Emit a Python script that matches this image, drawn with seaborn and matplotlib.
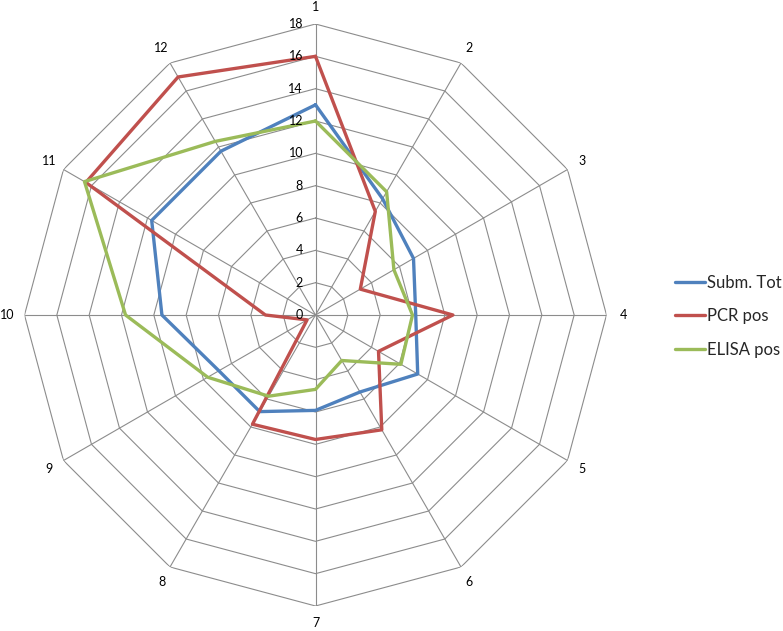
import numpy as np
import pandas as pd
import matplotlib
matplotlib.use("Agg")
import matplotlib.pyplot as plt
import seaborn as sns
from matplotlib import transforms

categories = [str(i) for i in range(1, 13)]
series_names = ["Subm. Tot", "PCR pos", "ELISA pos"]
subm_tot = [13.0, 8.3, 7.0, 6.2, 7.3, 5.5, 5.9, 6.9, 6.9, 9.5, 11.7, 11.7]
pcr_pos = [16.0, 7.4, 3.2, 8.5, 4.5, 8.2, 7.7, 7.8, 0.6, 3.1, 16.4, 17.0]
elisa_pos = [12.0, 8.8, 5.6, 6.0, 6.1, 3.25, 4.6, 5.8, 7.7, 11.75, 16.5, 12.4]
radial_ticks = [0, 2, 4, 6, 8, 10, 12, 14, 16, 18]
colors = ["#4F81BD", "#C0504D", "#9BBB59"]

sns.set_theme(style="white")
plt.rcParams["font.family"] = ["Lato", "DejaVu Sans"]

W, H = 783, 631
cx, cy, R = 315.5, 315.0, 291.0
fig = plt.figure(figsize=(W / 100, H / 100), dpi=100)
ax = fig.add_axes([(cx - R) / W, (H - cy - R) / H, 2 * R / W, 2 * R / H],
                  projection="polar")
ax.set_theta_zero_location("N")
ax.set_theta_direction(-1)

n = len(categories)
angles = np.arange(n) * 2 * np.pi / n
closed_angles = np.append(angles, 2 * np.pi)

rows = []
for name, vals in zip(series_names, [subm_tot, pcr_pos, elisa_pos]):
    for a, v in zip(closed_angles, list(vals) + [vals[0]]):
        rows.append({"theta": a, "value": v, "series": name})
df = pd.DataFrame(rows)

# polygon grid
grid_color = "#8C8C8C"
for r in radial_ticks[1:]:
    ax.plot(closed_angles, [r] * len(closed_angles), color=grid_color, lw=0.8, zorder=1)
for a in angles:
    ax.plot([a, a], [0, radial_ticks[-1]], color=grid_color, lw=0.8, zorder=1)

sns.lineplot(data=df, x="theta", y="value", hue="series", hue_order=series_names,
             palette=colors, sort=False, estimator=None, linewidth=2.4, ax=ax,
             zorder=3)

ax.grid(False)
ax.spines["polar"].set_visible(False)
ax.set_xticks([])
ax.set_yticks([])
ax.set_ylim(0, radial_ticks[-1])
ax.set_xlabel("")
ax.set_ylabel("")
ax.patch.set_alpha(0)

off = transforms.offset_copy(ax.transData, fig=fig, x=-9, y=0, units="points")
for r in radial_ticks:
    ax.text(0, r, str(r), transform=off, ha="right", va="center", fontsize=9,
            color="black", clip_on=False)

for a, c in zip(angles, categories):
    ax.text(a, 19.05, c, ha="center", va="center", fontsize=9, color="black",
            clip_on=False)

leg = ax.legend(loc="center left", bbox_to_anchor=(675 / W, 1 - 316 / H),
                bbox_transform=fig.transFigure, frameon=False, fontsize=12,
                handlelength=1.8, handletextpad=0.1, labelspacing=1.05,
                borderaxespad=0, borderpad=0, title=None)
for line in leg.get_lines():
    line.set_linewidth(2.4)

fig.savefig("out.png", dpi=100)
